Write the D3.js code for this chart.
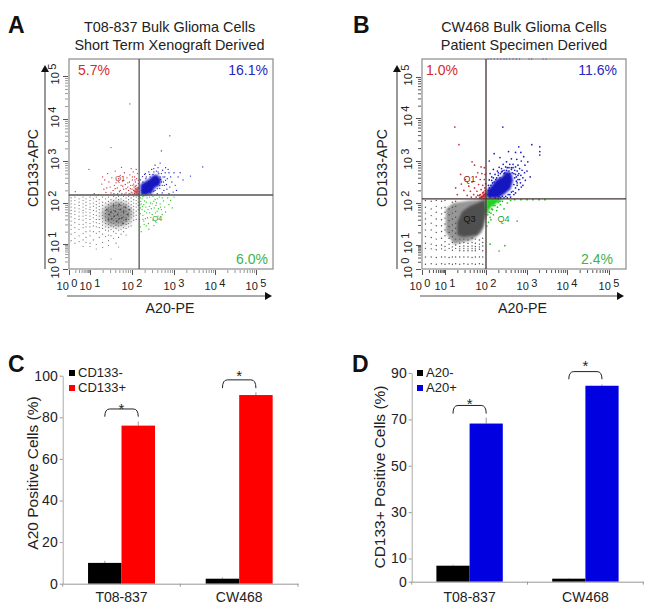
<!DOCTYPE html>
<html><head><meta charset="utf-8">
<script src="https://cdn.jsdelivr.net/npm/d3@7/dist/d3.min.js"></script>
<style>html,body{margin:0;background:#fff}svg{display:block}text{font-family:"Liberation Sans",Arial,sans-serif;fill:#222}</style>
</head><body><svg id="c" width="660" height="611"></svg>
<script>
// ---------- flow cytometry values, all in log10 units ----------
const decades=[0,1,2,3,4,5];
const aGate=[2.17,2.19], bGate=[2.0,2.1];
const aPercents=["5.7%","16.1%","6.0%"], bPercents=["1.0%","11.6%","2.4%"];

const aRed=[[1.95,4.35],[1.5,3.32],[.95,2.8],[.3,2.27],[1.3,2.62],[1.28,2.45],[1.33,2.33],[1.38,2.25],[1.42,2.7],[1.45,2.5],[1.48,2.38],[1.52,2.6],[1.55,2.3],[1.57,2.22],[1.6,2.76],[1.62,2.48],[1.65,2.36],[1.68,2.58],[1.7,2.27],[1.72,2.66],[1.74,2.42],[1.76,2.22],[1.78,2.52],[1.8,2.33],[1.82,2.72],[1.84,2.44],[1.86,2.24],[1.88,2.6],[1.9,2.38],[1.92,2.3],[1.94,2.5],[1.95,2.67],[1.97,2.42],[1.98,2.26],[2,2.33],[2.01,2.55],[2.03,2.74],[2.04,2.45],[2.05,2.38],[2.06,2.62],[2.07,2.28],[2.08,2.5],[2.09,2.34],[2.1,2.42],[2.11,2.58],[2.12,2.24],[2.13,2.7],[2.14,2.36],[2.15,2.46],[1.1,2.22],[1.2,2.2],[1.35,2.55],[1.75,2.85],[1.98,2.82],[2.1,2.8],[1.58,2.42],[1.83,2.21],[1.96,2.21],[2.02,2.2],[2.12,2.2],[1.4,2.36],[1.5,2.24],[1.6,2.34],[1.66,2.22],[1.72,2.3],[1.78,2.4],[1.86,2.34],[1.9,2.48],[1.93,2.22],[1.96,2.34],[2,2.24],[2.02,2.42],[2.04,2.3],[2.06,2.22],[2.08,2.4],[2.1,2.26],[2.12,2.32],[2.14,2.28],[2.15,2.22],[2.16,2.36],[2.07,2.55],[2.15,2.54],[2.01,2.62]];
const aRedCore=[[2.04,2.21],[2.06,2.34],[2.16,2.4],[2.16,2.2]];

const aBlue=[[2.9,3.6],[2.7,3.24],[3.7,2.86],[3.4,2.64],[3.15,2.72],[3.22,2.55],[3.0,2.72],[2.95,2.5],[2.88,2.72],[2.8,2.84],[2.67,2.95],[2.62,2.84],[2.55,2.9],[2.47,2.8],[2.4,2.74],[2.32,2.7],[2.25,2.63],[2.52,2.82],[2.73,2.78],[2.78,2.62],[2.84,2.58],[2.9,2.38],[3.03,2.42],[3.06,2.3],[2.98,2.26],[2.88,2.22],[2.82,2.44],[2.76,2.3],[2.72,2.24],[2.66,2.35],[2.6,2.22],[2.55,2.3],[2.83,2.33],[2.75,2.5],[2.7,2.7],[2.43,2.62],[2.33,2.58],[2.28,2.42],[2.24,2.3],[2.3,2.68],[2.5,2.68],[2.62,2.74],[2.67,2.62],[2.72,2.42],[2.8,2.54],[2.92,2.62],[2.58,2.76],[3.1,2.62],[2.86,2.8],[2.64,2.5],[2.46,2.2],[2.36,2.2],[2.6,2.44],[2.2,2.55],[2.26,2.5],[2.34,2.62],[2.42,2.68],[2.52,2.74],[2.64,2.7],[2.7,2.5],[2.74,2.62],[2.66,2.42],[2.6,2.34],[2.52,2.28],[2.44,2.24],[2.34,2.24],[2.25,2.2],[2.68,2.56],[2.77,2.42],[2.79,2.72]];
const aBlueCore=[[2.2,2.2],[2.2,2.44],[2.32,2.52],[2.42,2.58],[2.5,2.66],[2.6,2.67],[2.7,2.56],[2.66,2.42],[2.54,2.36],[2.48,2.24],[2.3,2.18]];

const aGreen=[[2.2,2.12],[2.22,1.98],[2.24,1.84],[2.26,1.7],[2.28,1.56],[2.2,1.42],[2.22,1.3],[2.3,2.05],[2.33,1.9],[2.35,1.76],[2.37,1.64],[2.39,1.5],[2.42,2.14],[2.44,2.0],[2.46,1.86],[2.48,1.72],[2.5,1.58],[2.52,1.45],[2.55,2.08],[2.57,1.94],[2.6,1.8],[2.62,1.68],[2.65,2.14],[2.67,1.98],[2.7,1.84],[2.72,1.72],[2.75,2.05],[2.78,1.9],[2.8,1.78],[2.85,2.12],[2.88,1.96],[2.92,2.06],[2.96,1.88],[3.0,2.14],[2.18,1.6],[2.25,1.92],[2.3,1.8],[2.32,1.62],[2.41,1.92],[2.45,1.65],[2.53,1.88],[2.58,2.0],[2.63,1.86],[2.26,2.15],[2.36,2.12],[2.5,2.16],[2.2,1.74],[2.29,1.48],[2.4,1.36],[2.21,2.04],[2.24,2.1],[2.28,1.96],[2.34,2.02],[2.38,1.84],[2.42,1.76],[2.48,1.98],[2.52,2.04],[2.56,1.76],[2.6,2.1],[2.68,1.9],[2.72,2.12],[2.2,1.88],[2.19,1.96],[2.26,1.6],[2.34,1.44],[2.18,2.16]];

const aGrayColumns=[
[.1,[2.12,2.05,1.98,1.9,1.82,1.74,1.66,1.56,1.46,1.36,1.24,1.08]],
[.28,[2.14,2.06,1.97,1.88,1.8,1.72,1.62,1.52,1.4,1.28,1.14,1.02]],
[.48,[2.1,2.02,1.94,1.86,1.78,1.68,1.6,1.48,1.36,1.2,1.06]],
[.67,[2.14,2.06,1.98,1.9,1.82,1.76,1.68,1.58,1.48,1.4,1.26,1.1,.9]],
[.81,[2.1,2.02,1.94,1.86,1.78,1.7,1.62,1.52,1.42,1.3,1.16,1.04]],
[1.0,[2.14,2.06,1.98,1.9,1.84,1.76,1.68,1.6,1.5,1.42,1.32,1.2,1.02,.9]],
[1.08,[2.1,2.0,1.92,1.82,1.72,1.64,1.54,1.44,1.3,1.1]],
[1.15,[2.14,2.04,1.96,1.88,1.8,1.7,1.6,1.52,1.42,1.26,.98,.8]],
[1.22,[2.08,2.0,1.92,1.84,1.76,1.68,1.6,1.5,1.4,1.3,1.16]],
[1.3,[2.14,2.02,1.94,1.86,1.78,1.7,1.62,1.54,1.46,1.38,1.24,1.04,.86]],
[1.37,[2.1,2.0,1.9,1.82,1.74,1.66,1.58,1.5,1.42,1.34,1.18]],
[1.44,[2.14,2.04,1.96,1.88,1.8,1.72,1.64,1.56,1.48,1.4,1.32,1.22,1.08,.94]],
[1.5,[2.08,2.0,1.92,1.84,1.76,1.68,1.6,1.52,1.44,1.36,1.2,.4]],
[1.56,[2.16,2.06,1.98,1.9,1.82,1.74,1.66,1.58,1.5,1.42,1.3,1.14]],
[1.62,[2.12,2.02,1.94,1.86,1.78,1.7,1.62,1.54,1.46,1.38,1.26,1.02]],
[1.68,[2.16,2.08,2,1.92,1.84,1.76,1.68,1.6,1.52,1.44,1.34,1.16,.88]],
[1.74,[2.1,2.02,1.94,1.86,1.78,1.7,1.62,1.54,1.46,1.36,1.24]],
[1.8,[2.16,2.06,1.98,1.9,1.82,1.74,1.66,1.58,1.5,1.4,1.3]],
[1.86,[2.12,2.04,1.96,1.88,1.8,1.72,1.64,1.56,1.48,1.38,1.22]],
[1.92,[2.16,2.08,2,1.92,1.84,1.76,1.68,1.6,1.5,1.42]],
[1.98,[2.12,2.04,1.96,1.88,1.8,1.72,1.64,1.54,1.44]],
[2.04,[2.16,2.08,2,1.92,1.84,1.76,1.68,1.58]],
[2.1,[2.14,2.06,1.98,1.9,1.8,1.7,1.6]],
[2.15,[2.16,2.1,2.02,1.94,1.84]]];
const aGrayCore=[[1.35,1.9],[1.6,2.04],[1.88,1.98],[2.02,1.75],[1.92,1.5],[1.68,1.42],[1.4,1.46],[1.28,1.7]];
const aGrayClumps=[[1.4,1.84],[1.46,1.72],[1.52,1.62],[1.56,1.94],[1.6,1.8],[1.64,1.56],[1.66,1.72],[1.7,1.96],[1.72,1.84],[1.76,1.64],[1.78,1.5],[1.8,1.78],[1.84,1.9],[1.86,1.6],[1.9,1.72],[1.94,1.84],[1.58,1.68],[1.5,1.78],[1.44,1.6],[1.7,1.62]];

const bRed=[[1.24,3.79],[1.34,3.38],[1.66,2.98],[1.72,2.9],[1.88,2.86],[1.8,2.72],[1.96,2.84],[1.38,2.68],[1.26,2.36],[1.3,2.2],[1.4,2.45],[1.46,2.3],[1.5,2.56],[1.54,2.18],[1.58,2.4],[1.62,2.28],[1.66,2.5],[1.7,2.2],[1.72,2.36],[1.76,2.62],[1.78,2.28],[1.82,2.44],[1.84,2.18],[1.86,2.56],[1.88,2.32],[1.9,2.7],[1.92,2.42],[1.94,2.26],[1.96,2.56],[1.97,2.36],[1.98,2.68],[1.99,2.22],[1.64,2.14],[1.76,2.14],[1.85,2.12],[1.9,2.15],[1.94,2.18],[1.98,2.3],[1.99,2.46],[1.8,2.18],[1.86,2.2],[1.92,2.24],[1.96,2.2],[1.88,2.14]];
const bRedCore=[[1.82,2.1],[1.93,2.2],[2,2.28],[2,2.1]];

const bBlue=[[2.41,3.79],[3.12,3.38],[3.32,3.33],[3.32,3.22],[3.32,3.14],[2.8,3.33],[2.2,3.17],[2.34,3.08],[2.55,3.22],[2.72,3.2],[2.85,3.2],[2.92,3.1],[2.08,3.0],[2.62,3.05],[2.75,3.04],[2.86,3.0],[3.02,2.98],[2.95,2.9],[2.5,2.98],[2.42,2.92],[2.32,2.85],[2.18,2.8],[2.1,2.7],[2.08,2.55],[2.06,2.42],[2.14,2.62],[2.22,2.68],[2.28,2.76],[2.38,2.82],[2.58,2.92],[2.66,2.92],[2.72,2.86],[2.78,2.9],[2.82,2.82],[2.88,2.78],[2.94,2.72],[3.0,2.76],[3.08,2.62],[2.9,2.6],[2.85,2.66],[2.8,2.7],[2.76,2.76],[2.7,2.78],[2.62,2.84],[2.48,2.86],[2.44,2.78],[2.9,2.42],[2.84,2.48],[2.8,2.32],[2.76,2.42],[2.72,2.24],[2.68,2.2],[2.6,2.14],[2.52,2.12],[2.44,2.12],[2.36,2.12],[2.74,2.52],[2.7,2.6],[2.82,2.56],[2.96,2.54],[2.12,2.28],[2.2,2.5],[2.26,2.6],[2.35,2.7],[2.46,2.72],[2.56,2.76],[2.64,2.72],[2.72,2.68],[2.78,2.56],[2.86,2.38],[2.66,2.28],[2.58,2.2],[2.16,2.48],[2.12,2.42],[2.3,2.66],[2.1,2.14],[2.22,2.12],[2.3,2.11],[2.62,2.8],[2.52,2.84],[2.4,2.76],[2.14,2.54],[2.18,2.6],[2.24,2.56],[2.3,2.72],[2.38,2.74],[2.44,2.7],[2.5,2.78],[2.56,2.84],[2.66,2.84],[2.68,2.7],[2.74,2.62],[2.76,2.48],[2.72,2.36],[2.68,2.44],[2.62,2.26],[2.54,2.2],[2.48,2.16],[2.4,2.16],[2.32,2.15],[2.06,2.3],[2.05,2.2],[2.08,2.36],[2.78,2.66],[2.58,2.7],[2.34,2.6]];
const bBlueCore=[[2.02,2.12],[2.02,2.3],[2.14,2.42],[2.25,2.56],[2.38,2.62],[2.5,2.76],[2.62,2.7],[2.66,2.54],[2.6,2.34],[2.46,2.22],[2.3,2.12]];
const bBlueTop=[2.05,2.12,2.2,2.28,2.36,2.44,2.5,2.58,2.66,2.74,2.82,3.05,3.12,3.4,3.48];

const bGreen=[[2.1,1.02],[2.46,.97],[2.32,.75],[2.76,1.57],[2.44,1.86],[2.52,2.0],[2.05,1.9],[2.08,1.78],[2.1,1.66],[2.06,1.54],[2.14,1.86],[2.18,1.72],[2.22,1.94],[2.26,1.82],[2.3,2.02],[2.35,1.96],[2.4,2.04],[2.12,1.6],[2.02,1.45],[2.18,1.94],[2.6,2.06],[2.7,2.08],[2.85,2.08],[3.0,2.08],[3.15,2.08],[3.3,2.08],[3.45,2.08],[2.04,1.72],[2.08,1.92],[2.12,1.76],[2.16,1.84],[2.2,2.0],[2.28,1.9],[2.34,2.04]];
const bGreenCore=[[2,2.1],[2.42,2.1],[2.24,1.98],[2.1,1.88],[2.03,1.72],[2,1.74]];

const bGrayColumns=[
[.15,[2.06,1.9,1.76,1.62,1.5,1.36,1.2,1.04,.86,.5,.2]],
[.4,[2.04,1.86,1.7,1.52,1.36,1.18,1.02,.84,.5,.22]],
[.62,[2.06,1.92,1.78,1.62,1.46,1.3,1.14,.98,.8,.48,.2]],
[.85,[2.04,1.88,1.74,1.6,1.46,1.32,1.16,1.0,.84,.5,.22]],
[1.0,[2.06,1.9,1.78,1.64,1.5,1.36,1.22,1.08,.94,.78,.5,.2]],
[1.1,[1.86,1.72,1.58,1.44,1.3,1.16,1.02,.86,.48,.22]],
[1.18,[2.02,1.9,1.76,1.62,1.48,1.34,1.2,1.06,.92,.78,.5,.2]],
[1.26,[2.04,1.92,1.8,1.66,1.52,1.4,1.28,1.14,1,.86,.5,.22]],
[1.36,[1.14,1.04,.94,.84,.76,.5,.2]],
[1.46,[1.14,1.06,.96,.86,.76,.5,.22]],
[1.56,[1.12,1.04,.94,.84,.76,.5,.2]],
[1.66,[1.16,1.06,.96,.86,.76,.48,.22]],
[1.74,[1.14,1.04,.94,.84,.76,.5,.2]],
[1.84,[1.12,1.02,.92,.82,.5,.22]],
[1.92,[1.16,1.06,.96,.76,.5,.2]]];
const bGrayMid=[[1.02,1.86],[1.2,2.0],[1.6,2.06],[2,2.09],[2,1.7],[1.9,1.3],[1.66,1.12],[1.22,1.02],[1.02,1.3]];
const bGrayCore=[[1.3,1.24],[1.3,1.55],[1.42,1.8],[1.61,1.93],[1.98,2.08],[2,1.79],[1.93,1.43],[1.78,1.24],[1.44,1.19]];
const bGrayClumps=[];

// ---------- bar chart values ----------
const cCategories=["T08-837","CW468"];
const cSeries=["CD133-","CD133+"];
const cValues=[[10,76],[2.4,90.7]];
const cErrors=[[1,2],[.6,1.3]];
const cTicks=[0,20,40,60,80,100];
const cBrackets=[[84,80.3,81.6],[98,94,97.4]];

const dCategories=["T08-837","CW468"];
const dSeries=["A20-","A20+"];
const dValues=[[6.9,68.2],[1.3,84.5]];
const dErrors=[[.4,2.6],[.2,.6]];
const dTicks=[0,10,30,50,70,90];
const dBrackets=[[76,72.5,74.4],[90.6,87.3,90.8]];

// ---------- drawing ----------
const svg=d3.select("#c");
const defs=svg.append("defs");
[["soft",.3],["b1",.9],["b3",2.6]].forEach(([id,s])=>defs.append("filter").attr("id",id)
  .attr("x","-30%").attr("y","-30%").attr("width","160%").attr("height","160%")
  .append("feGaussianBlur").attr("stdDeviation",s));
const label=(x,y,t,o={})=>svg.append("text").attr("x",x).attr("y",y).attr("text-anchor",o.a||"middle")
  .attr("font-size",o.s||14).attr("font-weight",o.w||null).style("fill",o.f||null)
  .attr("transform",o.r?`rotate(${o.r} ${x} ${y})`:null).text(t);

function flow(p){
  const x=d3.scaleLinear().domain([0,1,2,3,4,5,5.42]).range(p.xr);
  const y=d3.scaleLinear().domain([0,1,2,3,4,5,5.42]).range(p.yr);
  const g=svg.append("g");
  const minors=decades.slice(0,5).flatMap(d=>d3.range(2,10).map(m=>d+Math.log10(m)));
  [[d3.axisBottom(x),`translate(0,${p.yr[0]+1})`],[d3.axisLeft(y),`translate(${p.xr[0]-1},0)`]].forEach(([ax,t])=>{
    const a1=g.append("g").attr("transform",t).call(ax.tickValues(minors).tickSize(3).tickFormat(""));
    a1.select(".domain").remove(); a1.selectAll("line").attr("stroke",p.tick);
    const a2=g.append("g").attr("transform",t).call(ax.tickValues(decades).tickSize(5).tickFormat(""));
    a2.select(".domain").remove(); a2.selectAll("line").attr("stroke","#555");
  });
  const blobs=g.append("g");
  const dots=g.append("g").attr("filter","url(#soft)");
  const poly=d3.line().x(d=>x(d[0])).y(d=>y(d[1])).curve(d3.curveLinearClosed);
  const blob=(pts,fill,op,f)=>pts&&dots.append("path").attr("d",poly(pts)).attr("fill",fill).attr("opacity",op).attr("filter",`url(#${f})`);
  const pts=(data,fill,r,op)=>dots.append("g").selectAll("circle").data(data).join("circle")
    .attr("cx",d=>x(d[0])).attr("cy",d=>y(d[1])).attr("r",r).attr("fill",fill).attr("opacity",op);
  const flat=p.grayCols.flatMap(([cx,ys])=>ys.map(v=>[cx,v]));
  blob(p.grayMid,"#7e7e7e",.8,"b1");
  pts(flat,"#4c4c4c",p.grayR,p.grayOp);
  blob(p.grayCore,"#505050",p.coreOp,p.coreBlur);
  pts(p.clumps,"#2e2e2e",.9,.7);
  pts(p.green,"#22c022",p.r,1); blob(p.greenCore,"#22d022",1,"b1");
  pts(p.red,"#c4222a",p.r,.95); blob(p.redCore,"#c8202a",p.redOp,"b1");
  pts(p.blue,"#1818c4",p.r,1); blob(p.blueCore,"#1414c0",1,"b1");
  if(p.top) pts(p.top.map(v=>[v,5.42]),"#2a2ac4",.7,1);
  g.append("rect").attr("x",p.xr[0]).attr("y",p.yr[6]).attr("width",p.xr[6]-p.xr[0]).attr("height",p.yr[0]-p.yr[6])
    .attr("fill","none").attr("stroke","#8a8a8a").attr("stroke-width",1.2);
  g.append("line").attr("x1",x(p.gate[0])).attr("x2",x(p.gate[0])).attr("y1",p.yr[0]).attr("y2",p.yr[6]).attr("stroke",p.gateC).attr("stroke-width",1.3);
  g.append("line").attr("x1",p.xr[0]).attr("x2",p.xr[6]).attr("y1",y(p.gate[1])).attr("y2",y(p.gate[1])).attr("stroke",p.gateC).attr("stroke-width",1.3);
  decades.forEach(d=>{
    const px=x(d)+(d==0?-2:0);
    const t=svg.append("text").attr("x",px).attr("y",p.yr[0]+21).attr("text-anchor","middle").attr("font-size",11);
    t.append("tspan").text("10"); t.append("tspan").attr("dx",2.5).attr("dy",-3).text(d);
    const py=y(d)+(d==0?-1:-2);
    const l=p.xr[0]-10;
    const v=svg.append("text").attr("x",l).attr("y",py).attr("text-anchor","middle").attr("font-size",11)
      .attr("transform",`rotate(-90 ${l} ${py})`);
    v.append("tspan").text("10"); v.append("tspan").attr("dx",2.5).attr("dy",-3).text(d);
  });
  const ax=p.yAxisX, ay=p.xAxisY;
  g.append("line").attr("x1",ax).attr("x2",ax).attr("y1",p.yr[0]).attr("y2",p.yArrowTop+5).attr("stroke","#555").attr("stroke-width",1.2);
  g.append("path").attr("d",`M${ax-4},${p.yArrowTop+7}L${ax},${p.yArrowTop}L${ax+4},${p.yArrowTop+7}Z`).attr("fill","#111");
  g.append("line").attr("x1",p.xr[0]-2).attr("x2",p.xArrowEnd-5).attr("y1",ay).attr("y2",ay).attr("stroke","#555").attr("stroke-width",1.2);
  g.append("path").attr("d",`M${p.xArrowEnd-7},${ay-4}L${p.xArrowEnd},${ay}L${p.xArrowEnd-7},${ay+4}Z`).attr("fill","#111");
  label(p.tx,32,p.title[0],{s:14.4}); label(p.tx,50,p.title[1],{s:14.4});
  label(p.xLabelX,313,"A20-PE",{s:14.2});
  label(p.yLabelX,168,"CD133-APC",{s:14.2,r:-90});
  label(p.pctX[0],75,p.pct[0],{a:"start",f:"#d22c2c",s:14});
  label(p.pctX[1],75,p.pct[1],{a:"end",f:"#2626c0",s:14});
  label(p.pctX[2],264,p.pct[2],{a:"end",f:"#3cb44a",s:14});
  p.q.forEach(([qx,qy,t,c])=>label(x(qx),y(qy),t,{s:p.qs,f:c}));
  label(p.lx,33,p.letter,{a:"start",s:23,w:"bold",f:"#111"});
}

flow({letter:"A",lx:8,title:["T08-837 Bulk Glioma Cells","Short Term Xenograft Derived"],tx:169.5,pctX:[78,268,268],
  xr:[69,90,132,174,215,256,273],yr:[269,244,203,161,119,76,59],gate:aGate,gateC:"#555",tick:"#999",pct:aPercents,
  grayCols:aGrayColumns,grayCore:aGrayCore,grayOp:.8,grayR:.6,coreOp:.6,coreBlur:"b3",clumps:aGrayClumps,green:aGreen,red:aRed,redCore:aRedCore,redOp:.7,
  blue:aBlue,blueCore:aBlueCore,r:.65,q:[[1.72,2.52,"Q1","#a82828"],[2.6,1.55,"Q4","#22a030"]],qs:7.5,
  yAxisX:45,xAxisY:296,yArrowTop:65,xArrowEnd:272,xLabelX:170,yLabelX:38});

flow({letter:"B",lx:353,title:["CW468 Bulk Glioma Cells","Patient Specimen Derived"],tx:524,pctX:[426,617,613],
  xr:[422,445,486,527,567,609,626],yr:[269,245,203,161,118,77,59],gate:bGate,gateC:"#443333",tick:"#555",pct:bPercents,
  grayCols:bGrayColumns,grayMid:bGrayMid,grayCore:bGrayCore,grayOp:1,grayR:.7,coreOp:1,coreBlur:"b1",clumps:bGrayClumps,green:bGreen,greenCore:bGreenCore,red:bRed,redCore:bRedCore,redOp:1,
  blue:bBlue,blueCore:bBlueCore,top:bBlueTop,r:.85,q:[[1.6,2.5,"Q1","#901818"],[1.6,1.55,"Q3","#111"],[2.43,1.55,"Q4","#22a030"]],qs:9,
  yAxisX:397,xAxisY:296,yArrowTop:65,xArrowEnd:624,xLabelX:522.5,yLabelX:387});

function bars(p){
  const x=d3.scaleBand().domain(p.cats).range(p.xr);
  const x1=d3.scaleBand().domain(p.series).range([0,x.bandwidth()]).paddingInner(0).paddingOuter(p.pad);
  const y=d3.scaleLinear().domain([0,p.max]).range(p.yr);
  const g=svg.append("g");
  const rows=p.cats.flatMap((c,i)=>p.series.map((s,j)=>({c,s,i,j,v:p.values[i][j],e:p.errors[i][j]})));
  g.selectAll(".e").data(rows).join("line").attr("x1",d=>x(d.c)+x1(d.s)+x1.bandwidth()/2).attr("x2",d=>x(d.c)+x1(d.s)+x1.bandwidth()/2)
    .attr("y1",d=>y(d.v)).attr("y2",d=>y(d.v+d.e)).attr("stroke","#999");
  g.selectAll(".b").data(rows).join("rect").attr("x",d=>x(d.c)+x1(d.s)).attr("width",x1.bandwidth())
    .attr("y",d=>y(d.v)).attr("height",d=>y(0)-y(d.v)).attr("fill",d=>p.colors[d.j]);
  const ya=g.append("g").attr("transform",`translate(${p.xr[0]},0)`).call(d3.axisLeft(y).tickValues(p.ticks).tickSize(3).tickPadding(2).tickSizeOuter(0));
  ya.selectAll("text").attr("font-size",14).attr("font-family",null);
  ya.selectAll("line").attr("stroke","#999"); ya.select(".domain").attr("stroke","#aaa");
  const xa=g.append("g").attr("transform",`translate(0,${y(0)})`).call(d3.axisBottom(x).tickSize(0).tickPadding(p.catPad));
  xa.selectAll("text").attr("font-size",14).attr("font-family",null);
  xa.select(".domain").attr("stroke","#999");
  g.selectAll(".t").data([...p.cats.map(c=>x(c)),p.xr[1]]).join("line").attr("x1",d=>d).attr("x2",d=>d)
    .attr("y1",y(0)).attr("y2",y(0)+3).attr("stroke","#999");
  p.cats.forEach((c,i)=>{
    const a=x(c)+x1(p.series[0])+x1.bandwidth()/2, b=x(c)+x1(p.series[1])+x1.bandwidth()/2;
    const [top,foot,star]=p.brackets[i], yt=y(top), yf=y(foot);
    g.append("path").attr("d",`M${a},${yf}Q${a},${yt} ${a+5},${yt}L${b-5},${yt}Q${b},${yt} ${b},${yf}`)
      .attr("fill","none").attr("stroke","#222").attr("stroke-width",1);
    label((a+b)/2,y(star),"*",{s:15});
  });
  p.series.forEach((s,j)=>{
    const ly=p.legY+j*p.legStep;
    g.append("rect").attr("x",p.legX).attr("y",ly-7).attr("width",6).attr("height",6).attr("fill",p.colors[j]);
    label(p.legX+9,ly,s,{a:"start",s:13});
  });
  label(p.titleX,p.titleY,p.title,{s:p.titleS,r:-90});
  label(p.lx,372,p.letter,{a:"start",s:23,w:"bold",f:"#111"});
}

bars({letter:"C",lx:8,cats:cCategories,series:cSeries,values:cValues,errors:cErrors,colors:["#000","#f00"],catPad:8,
  ticks:cTicks,max:100,xr:[62.7,298],yr:[583.7,375.7],pad:.757,brackets:cBrackets,legX:69,legY:377,legStep:15,
  title:"A20 Positive Cells (%)",titleX:38,titleY:473,titleS:15.5});
bars({letter:"D",lx:352,cats:dCategories,series:dSeries,values:dValues,errors:dErrors,colors:["#000","#0000e0"],catPad:10,
  ticks:dTicks,max:90,xr:[411.7,643.3],yr:[581.7,373],pad:.744,brackets:dBrackets,legX:417,legY:377,legStep:15,
  title:"CD133+ Positive Cells (%)",titleX:385,titleY:477,titleS:15.5});
</script></body></html>
